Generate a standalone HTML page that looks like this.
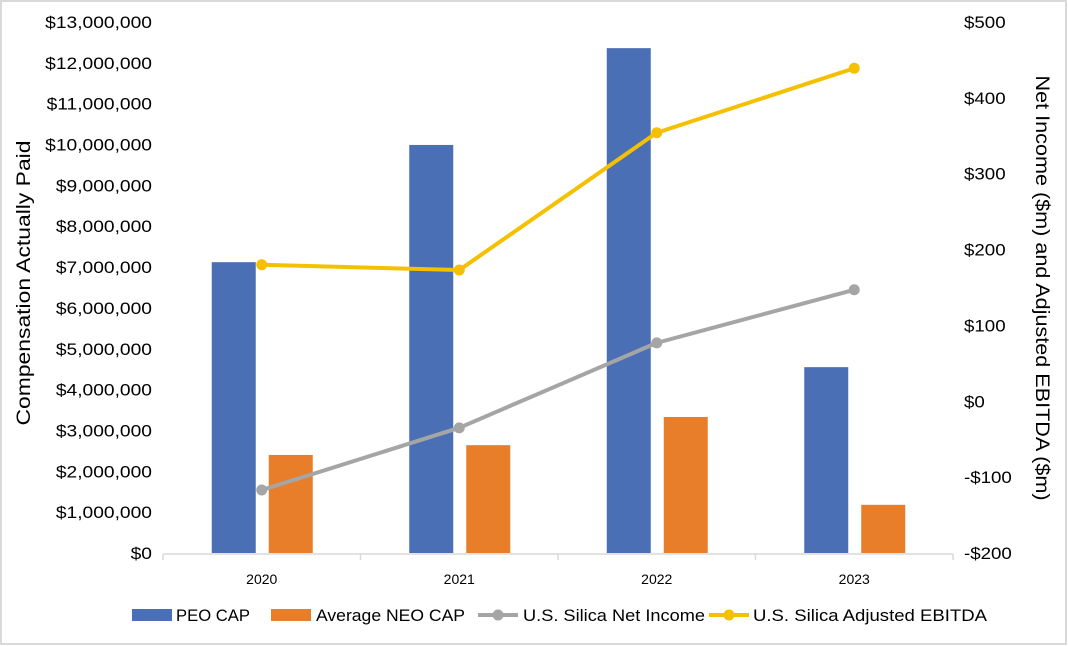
<!DOCTYPE html>
<html><head><meta charset="utf-8"><style>
body{margin:0;background:#fff;}
svg{display:block;font-family:"Liberation Sans",sans-serif;}
</style></head><body>
<svg id="chart" width="1068" height="646">
<rect x="1" y="1" width="1065" height="643" fill="#fff" stroke="#d9d9d9" stroke-width="2"/>
<g id="g"></g>
</svg>
<script>
const categories=["2020","2021","2022","2023"];
const peoCap=[7120000,9990000,12360000,4550000];
const neoCap=[2400000,2640000,3330000,1180000];
const netIncome=[-117,-35,77,147];
const ebitda=[180,173,354,439];
const leftTicks=[0,1,2,3,4,5,6,7,8,9,10,11,12,13];
const rightTicks=[-200,-100,0,100,200,300,400,500];

const NS="http://www.w3.org/2000/svg";
const g=document.getElementById('g');
const X0=163,X1=953,Y0=553,Y1=22;
const yL=v=>Y0-(v/13000000)*(Y0-Y1);
const yR=v=>Y0-((v+200)/700)*(Y0-Y1);
const cw=(X1-X0)/categories.length;
const xc=i=>X0+cw*(i+0.5);
function el(t,a,txt){const e=document.createElementNS(NS,t);for(const k in a)e.setAttribute(k,a[k]);if(txt!==undefined)e.textContent=txt;g.appendChild(e);return e;}
function stretch(e,f){const w=e.getComputedTextLength();e.setAttribute('textLength',w*f);e.setAttribute('lengthAdjust','spacingAndGlyphs');}
const fmt=n=>'$'+n.toLocaleString('en-US');

leftTicks.forEach(t=>{
 const e=el('text',{x:152,y:yL(t*1e6)+6,'text-anchor':'end','font-size':17,fill:'#000'},fmt(t*1e6));
 
 
 stretch(e,1.13);
});
rightTicks.forEach(t=>{
 const e=el('text',{x:964,y:yR(t)+6,'text-anchor':'start','font-size':17,fill:'#000'},(t<0?'-$'+(-t):'$'+t));
 
 
 stretch(e,1.1);
});
let t=el('text',{x:0,y:0,transform:'translate(30,283) rotate(-90)','text-anchor':'middle','font-size':19},'Compensation Actually Paid');

t.setAttribute('textLength',285);t.setAttribute('lengthAdjust','spacingAndGlyphs');
t=el('text',{x:0,y:0,transform:'translate(1036,288) rotate(90)','text-anchor':'middle','font-size':19},'Net Income ($m) and Adjusted EBITDA ($m)');

t.setAttribute('textLength',425);t.setAttribute('lengthAdjust','spacingAndGlyphs');

categories.forEach((c,i)=>{
 let b=el('rect',{x:xc(i)-50,y:yL(peoCap[i]),width:44,height:Y0-yL(peoCap[i]),fill:'#4a6fb5'});
 
 b=el('rect',{x:xc(i)+7,y:yL(neoCap[i]),width:44,height:Y0-yL(neoCap[i]),fill:'#e87d2a'});
 
 const l=el('text',{x:xc(i),y:584,'text-anchor':'middle','font-size':14},c);
 
});
let ax=el('line',{x1:X0,y1:Y0+1,x2:X1,y2:Y0+1,stroke:'#d9d9d9','stroke-width':1.5});

for(let i=0;i<=categories.length;i++){
 const tk=el('line',{x1:X0+cw*i,y1:Y0+1,x2:X0+cw*i,y2:Y0+7,stroke:'#d9d9d9','stroke-width':1.5});
 
}
function series(vals,color,name){
 const p=el('polyline',{points:vals.map((v,i)=>xc(i)+','+yR(v)).join(' '),fill:'none',stroke:color,'stroke-width':4,'stroke-linejoin':'round'});
 
 vals.forEach((v,i)=>{const c=el('circle',{cx:xc(i),cy:yR(v),r:5.5,fill:color});
  });
}
series(netIncome,'#a5a5a5','net-income');
series(ebitda,'#f5c000','ebitda');

// legend
const leg=[["rect",132,'#4a6fb5','PEO CAP',176,74],["rect",271,'#e87d2a','Average NEO CAP',316,149],["line",478,'#a5a5a5','U.S. Silica Net Income',523,182],["line",709,'#f5c000','U.S. Silica Adjusted EBITDA',753,234]];
leg.forEach(([k,x,c,txt,tx,tw])=>{
 let m;
 if(k==='rect'){m=el('rect',{x:x,y:609,width:40,height:12,fill:c});}
 else{m=el('line',{x1:x,y1:615,x2:x+40,y2:615,stroke:c,'stroke-width':4});
  const d=el('circle',{cx:x+20,cy:615,r:5.5,fill:c});}
 
 const e=el('text',{x:tx,y:621,'font-size':17,textLength:tw,lengthAdjust:'spacingAndGlyphs'},txt);
 
});
</script>
</body></html>
